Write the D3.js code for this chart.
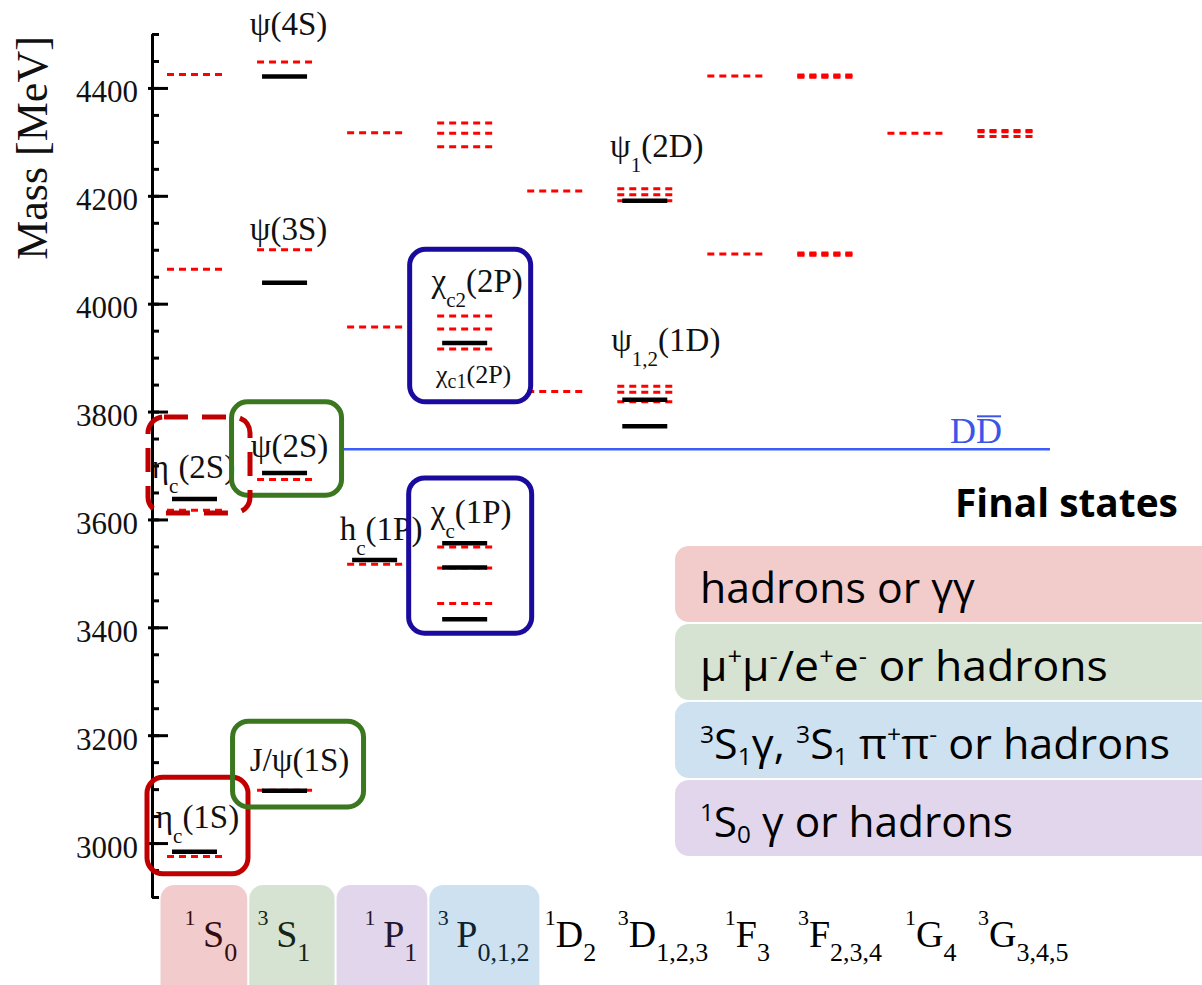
<!DOCTYPE html>
<html><head><meta charset="utf-8">
<script src="https://cdn.jsdelivr.net/npm/d3@7"></script>
<style>body{margin:0;background:#fff;} svg{display:block;} text{white-space:pre;}</style>
</head><body>
<svg id="chart" width="1202" height="985"></svg>
<script>
// ---------------- DATA ----------------
const categories = ["1S0","3S1","1P1","3P","1D2","3D","1F3","3F","1G4","3G"];
const categoryLabels = ["^{1}\u2009S_{0}","^{3}\u2009S_{1}","^{1}\u2009P_{1}","^{3}\u2009P_{0,1,2}","^{1}D_{2}","^{3}D_{1,2,3}","^{1}F_{3}","^{3}F_{2,3,4}","^{1}G_{4}","^{3}G_{3,4,5}"];
const highlightedCategories = ["1S0","3S1","1P1","3P"];
const majorTicks = [3000,3200,3400,3600,3800,4000,4200,4400];
const minorTicks = d3.range(2900, 4501, 50);
const yDomain = [2900, 4500];

// observed (experimental) levels [category, mass MeV]
const observed = [
  ["1S0",2984],["1S0",3638],
  ["3S1",3097],["3S1",3686],["3S1",4039],["3S1",4421],
  ["1P1",3525],
  ["3P",3415],["3P",3511],["3P",3556],["3P",3927],
  ["3D",3773],["3D",3822],["3D",4191]
];
// predicted (potential model) levels [category, mass MeV]
const predicted = [
  ["1S0",2975],["1S0",3617],["1S0",4064],["1S0",4425],
  ["3S1",3098],["3S1",3674],["3S1",4100],["3S1",4448],
  ["1P1",3517],["1P1",3957],["1P1",4317],
  ["3P",3444],["3P",3510],["3P",3549],["3P",3916],["3P",3953],["3P",3977],["3P",4291],["3P",4316],["3P",4335],
  ["1D2",3837],["1D2",4209],
  ["3D",3818],["3D",3836],["3D",3847],["3D",4191],["3D",4202],["3D",4213],
  ["1F3",4092],["1F3",4422],
  ["3F",4090],["3F",4092],["3F",4094],["3F",4420],["3F",4422],["3F",4424],
  ["1G4",4316],
  ["3G",4310],["3G",4319],["3G",4321]
];
const stateNames = ["η_{c}(1S)","J/ψ(1S)","η_{c}(2S)","ψ(2S)","ψ(3S)","ψ(4S)","h_{c}(1P)","χ_{c}(1P)","χ_{c2}(2P)","χ_{c1}(2P)","ψ_{1}(2D)","ψ_{1,2}(1D)"];
const stateCats  = ["1S0","3S1","1S0","3S1","3S1","3S1","1P1","3P","3P","3P","3D","3D"];
const stateMass  = [2984,3097,3638,3686,4039,4421,3525,3556,3927,3927,4191,3822];
const thresholdMass = 3730;
const thresholdLabel = ["D","D"];
const yAxisTitle = "Mass [MeV]";
const legendTitle = "Final states";
const legendLabels = ["hadrons or γγ","μ^{+}μ^{-}/e^{+}e^{-} or hadrons","^{3}S_{1}γ, ^{3}S_{1} π^{+}π^{-} or hadrons","^{1}S_{0} γ or hadrons"];

// ---------------- LAYOUT / STYLE ----------------
const catColors = ["#cc3333","#5b8f4b","#8b5bb3","#3787c7"];
const legendColors = ["#f2cbcb","#d6e3d2","#cde1f1","#e2d6ec"];
const serif = "'Liberation Serif','Times New Roman',serif";
const sans = "'Open Sans','DejaVu Sans',sans-serif";
// label offsets relative to (x(cat), y(mass)) : [dx centre, dy baseline, fontSize]
const stateLabelLayout = [[3,-24,33],[15,-20,33],[-1,-21,33],[5,-16,33],[4,-43,33],[4,-42,33],[6.5,-20,33],[6.5,-20,33],[12.5,-51,33],[9,40,26],[12,-44,33],[21,-49,33]];
// annotation boxes in data space: cat, mass range, pixel extents around column, colour, dashed
const annotationBoxes = [
  {cat:"1S0", m:[2943,3122], dx:[-47.5,53.5], color:"#c00000", dash:null},
  {cat:"3S1", m:[3067,3226], dx:[-52,79], color:"#3a771f", dash:null},
  {cat:"3S1", m:[3645,3818], dx:[-53,57], color:"#3a771f", dash:null},
  {cat:"1S0", m:[3612,3790], dx:[-46.5,55.5], color:"#c00000", dash:"24,14"},
  {cat:"3P",  m:[3818,4101], dx:[-55,66], color:"#1a0b9e", dash:null},
  {cat:"3P",  m:[3389,3677], dx:[-56,67], color:"#1a0b9e", dash:null}
];

const svg = d3.select("#chart");
const x = d3.scalePoint().domain(categories).range([194.5, 1005]);
const y = d3.scaleLinear().domain(yDomain).range([897, 34]);

function parseRich(s){
  const out=[]; let i=0;
  while(i<s.length){
    if((s[i]==='^'||s[i]==='_') && s[i+1]==='{'){
      const end=s.indexOf('}',i);
      out.push({t:s.slice(i+2,end), m:s[i]==='^'?'sup':'sub'}); i=end+1;
    } else {
      let j=i; while(j<s.length && !((s[j]==='^'||s[j]==='_')&&s[j+1]==='{')) j++;
      out.push({t:s.slice(i,j), m:'n'}); i=j;
    }
  }
  return out;
}
function rich(sel, s, cfg){
  let cur=0;
  parseRich(s).forEach(p=>{
    const target = p.m==='sup' ? -cfg.supShift : (p.m==='sub' ? cfg.subShift : 0);
    const ts = sel.append("tspan").text(p.t).attr("dy", target-cur);
    if(p.m==='sup') ts.attr("font-size", cfg.supSize);
    if(p.m==='sub') ts.attr("font-size", cfg.subSize);
    cur = target;
  });
  return sel;
}

// ---------------- AXIS ----------------
const axisG = svg.append("g").attr("transform","translate(152,0)");
axisG.append("g").call(d3.axisRight(y).tickValues(minorTicks).tickSize(7).tickSizeOuter(0).tickFormat(""));
axisG.append("g").call(d3.axisRight(y).tickValues(majorTicks).tickSize(16).tickSizeOuter(0).tickFormat(""));
axisG.append("g").call(d3.axisLeft(y).tickValues(majorTicks).tickSize(4).tickSizeOuter(0).tickPadding(10).tickFormat(d3.format("d")));
axisG.selectAll("path.domain").attr("stroke","#000").attr("stroke-width",3);
axisG.selectAll(".tick line").attr("stroke","#000").attr("stroke-width",3);
axisG.selectAll(".tick text").attr("font-family",serif).attr("font-size",31).attr("fill","#111").attr("dy","0.45em");

svg.append("text").attr("transform","translate(47,148) rotate(-90)")
  .attr("text-anchor","middle").attr("font-family",serif).attr("font-size",44).attr("fill","#111").text(yAxisTitle);

// ---------------- THRESHOLD ----------------
svg.append("line").attr("x1", x("3S1")+57).attr("x2", x("3G")+45)
  .attr("y1", y(thresholdMass)).attr("y2", y(thresholdMass))
  .attr("stroke","#3d5cff").attr("stroke-width",2.5);
const dd = svg.append("text").attr("x", x("3G")-55).attr("y", y(thresholdMass)-6)
  .attr("font-family",serif).attr("font-size",36).attr("fill","#3a55e8");
dd.append("tspan").text(thresholdLabel[0]);
dd.append("tspan").text(thresholdLabel[1]);
{
  const n = dd.node();
  const s = n.getStartPositionOfChar(1), e = n.getEndPositionOfChar(1);
  svg.append("line").attr("x1", s.x+1).attr("x2", e.x-1).attr("y1", y(thresholdMass)-33).attr("y2", y(thresholdMass)-33)
    .attr("stroke","#3a55e8").attr("stroke-width",2);
}

// ---------------- LEVELS ----------------
svg.append("g").selectAll("line").data(predicted).join("line")
  .attr("x1", d=>x(d[0])-27.5).attr("x2", d=>x(d[0])+27.5)
  .attr("y1", d=>y(d[1])).attr("y2", d=>y(d[1]))
  .attr("stroke","#ff0000").attr("stroke-width",3).attr("stroke-dasharray","7,5");
svg.append("g").selectAll("line").data(observed).join("line")
  .attr("x1", d=>x(d[0])-22.5).attr("x2", d=>x(d[0])+22.5)
  .attr("y1", d=>y(d[1])).attr("y2", d=>y(d[1]))
  .attr("stroke","#000").attr("stroke-width",4.5);

// ---------------- STATE LABELS ----------------
stateNames.forEach((name,i)=>{
  const [dx,dy,fs] = stateLabelLayout[i];
  const t = svg.append("text").attr("x", x(stateCats[i])+dx).attr("y", y(stateMass[i])+dy)
    .attr("text-anchor","middle").attr("font-family",serif).attr("font-size",fs).attr("fill","#111");
  const small = fs<30;
  rich(t, name, {supSize:21, subSize: small?20:21, supShift:12, subShift: small?5:15});
});

// ---------------- ANNOTATION BOXES ----------------
svg.append("g").selectAll("rect").data(annotationBoxes).join("rect")
  .attr("x", d=>x(d.cat)+d.dx[0]).attr("width", d=>d.dx[1]-d.dx[0])
  .attr("y", d=>y(d.m[1])).attr("height", d=>y(d.m[0])-y(d.m[1]))
  .attr("rx",16).attr("fill","none").attr("stroke",d=>d.color).attr("stroke-width",5)
  .attr("stroke-dasharray", d=>d.dash);

// ---------------- CATEGORY LABELS ----------------
const catG = svg.append("g");
const labelEnds = [];
categories.forEach((c,i)=>{
  const startX = x(c) + (categoryLabels[i].startsWith("^{3}") ? -27 : -10);
  const t = catG.append("text").attr("x", startX).attr("y", 947)
    .attr("font-family",serif).attr("font-size",38).attr("fill","#000");
  rich(t, categoryLabels[i], {supSize:22, subSize:26, supShift:22, subShift:14});
  labelEnds.push(startX + t.node().getComputedTextLength());
});
{
  let prevRight = null;
  highlightedCategories.forEach((c,k)=>{
    const i = categories.indexOf(c);
    const x0 = prevRight === null ? x(c)-34 : prevRight+2;
    const x1 = Math.max(x(c)+50, labelEnds[i]+10);
    prevRight = x1;
    catG.append("rect").attr("x",x0).attr("y",885).attr("width",x1-x0).attr("height",130)
      .attr("rx",14).attr("fill",catColors[k]).attr("fill-opacity",0.25);
  });
}

// ---------------- LEGEND ----------------
const legTargets = [275, 408, 470, 313];
const legG = svg.append("g");
function fitText(sel, target){
  const w = sel.node().getComputedTextLength();
  return target / w;
}
{
  const t = legG.append("text").attr("font-family",sans).attr("font-size",40).attr("font-weight",700).attr("fill","#000").text(legendTitle);
  const s = fitText(t, 223);
  t.attr("transform", `translate(955,517) scale(${s},1)`);
}
legendLabels.forEach((lab,i)=>{
  const top = 546 + i*78;
  legG.append("rect").attr("x",675).attr("y",top).attr("width",560).attr("height",76).attr("rx",14).attr("fill",legendColors[i]);
  const t = legG.append("text").attr("font-family",sans).attr("font-size",42).attr("fill","#000");
  rich(t, lab, {supSize:24, subSize:24, supShift:16, subShift:6});
  const s = fitText(t, legTargets[i]);
  t.attr("transform", `translate(700,${top+57}) scale(${s},1)`);
});
</script>
</body></html>
